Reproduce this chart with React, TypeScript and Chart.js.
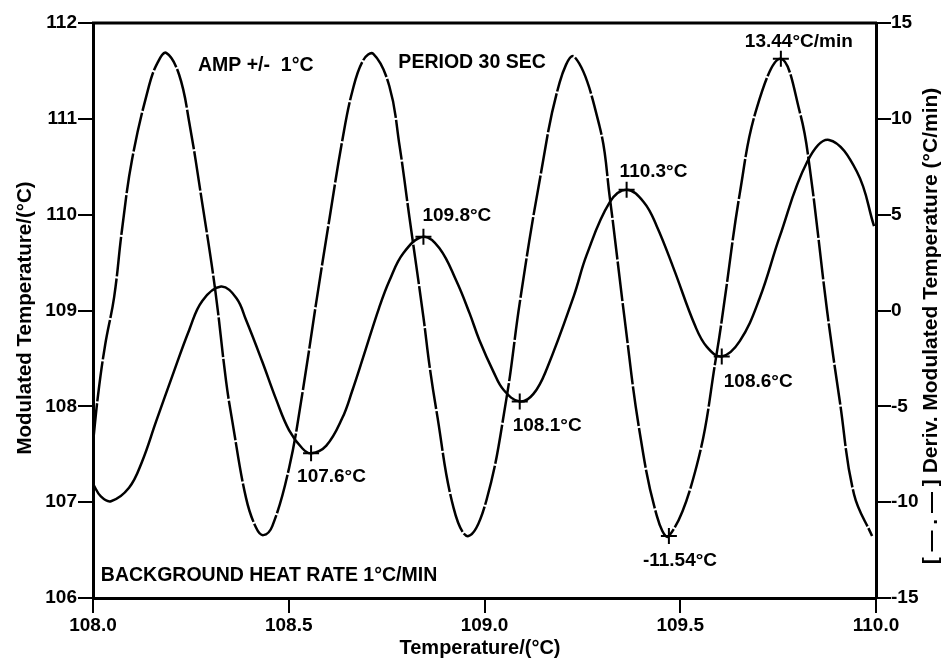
import React, { useEffect, useRef } from "react";
import { Chart, registerables } from "chart.js";

Chart.register(...registerables);

const FONT = '"Liberation Sans", Arial, Helvetica, sans-serif';

// Modulated temperature (left axis, °C) vs. average temperature (°C)
const tempX = [108.000, 108.020, 108.046, 108.092, 108.125, 108.161, 108.202, 108.246, 108.279, 108.327, 108.366, 108.391, 108.432, 108.468, 108.501, 108.535, 108.557, 108.596, 108.637, 108.662, 108.690, 108.731, 108.757, 108.793, 108.844, 108.885, 108.928, 108.962, 108.987, 109.023, 109.049, 109.090, 109.125, 109.159, 109.228, 109.261, 109.320, 109.363, 109.407, 109.440, 109.483, 109.538, 109.568, 109.606, 109.652, 109.703, 109.754, 109.824, 109.880, 109.951, 109.995];
const tempY = [107.19, 107.06, 107.01, 107.15, 107.42, 107.84, 108.31, 108.80, 109.10, 109.25, 109.13, 108.90, 108.47, 108.07, 107.75, 107.56, 107.51, 107.59, 107.88, 108.16, 108.51, 109.03, 109.31, 109.60, 109.77, 109.65, 109.31, 108.97, 108.69, 108.36, 108.17, 108.05, 108.13, 108.39, 109.15, 109.58, 110.13, 110.26, 110.13, 109.88, 109.44, 108.84, 108.62, 108.52, 108.68, 109.13, 109.77, 110.55, 110.78, 110.45, 109.88];

// Derivative of modulated temperature (right axis, °C/min)
const derivX = [108.000, 108.013, 108.031, 108.054, 108.074, 108.100, 108.143, 108.166, 108.187, 108.220, 108.246, 108.279, 108.312, 108.340, 108.356, 108.391, 108.417, 108.435, 108.458, 108.501, 108.535, 108.570, 108.604, 108.637, 108.662, 108.690, 108.716, 108.757, 108.783, 108.808, 108.844, 108.859, 108.877, 108.921, 108.959, 109.005, 109.056, 109.090, 109.141, 109.192, 109.230, 109.294, 109.320, 109.358, 109.396, 109.440, 109.471, 109.542, 109.593, 109.614, 109.652, 109.696, 109.757, 109.806, 109.831, 109.875, 109.908, 109.944, 109.990];
const derivY = [-6.90, -4.40, -1.80, 0.70, 4.20, 7.90, 11.72, 12.97, 13.44, 12.30, 9.80, 5.60, 1.10, -3.70, -5.80, -9.79, -11.35, -11.72, -11.25, -8.20, -4.30, 0.40, 4.79, 8.90, 11.40, 13.05, 13.39, 11.70, 8.60, 4.90, -0.35, -2.80, -5.20, -10.30, -11.77, -9.90, -4.60, 0.40, 6.80, 11.90, 13.23, 9.60, 5.90, -0.45, -6.30, -10.70, -11.77, -8.10, -2.25, 0.65, 6.10, 10.60, 13.13, 10.30, 7.40, 0.00, -4.80, -9.60, -11.77];

// Marked extrema
const tempMarkX = [108.557, 108.844, 109.090, 109.363, 109.606];
const tempMarkY = [107.51, 109.77, 108.05, 110.26, 108.52];
const tempMarkLabels = ["107.6°C", "109.8°C", "108.1°C", "110.3°C", "108.6°C"];
const derivMarkX = [109.471, 109.757];
const derivMarkY = [-11.77, 13.13];
const derivMarkLabels = ["-11.54°C", "13.44°C/min"];

// Axis ticks
const xTicks = [108.0, 108.5, 109.0, 109.5, 110.0];
const yTicks = [106, 107, 108, 109, 110, 111, 112];
const y2Ticks = [-15, -10, -5, 0, 5, 10, 15];

// Label placement (pixel offsets from the marked point: left edge, vertical centre)
const tempLabelOffsets = [[-14, 23], [-1, -21], [-7, 24], [-7, -18], [2, 25]];
const derivLabelOffsets = [[-26, 25], [-36, -17]];

const notes = [
  { text: "AMP +/-  1°C", x: 108.268, y: 111.56 },
  { text: "PERIOD 30 SEC", x: 108.78, y: 111.59 },
  { text: "BACKGROUND HEAT RATE 1°C/MIN", x: 108.02, y: 106.23 },
];

export default function App() {
  const ref = useRef<HTMLCanvasElement | null>(null);

  useEffect(() => {
    if (!ref.current) return;
    const tickFont = { family: FONT, size: 19, weight: "bold" as const };

    const decorations = {
      id: "decorations",
      afterDatasetsDraw(chart: any) {
        const { ctx, chartArea, scales } = chart;
        const xs = scales.x, ys = scales.y, ys2 = scales.y2;
        ctx.save();
        // top frame line
        ctx.strokeStyle = "#000";
        ctx.lineWidth = 3;
        ctx.beginPath();
        ctx.moveTo(chartArea.left - 1, chartArea.top);
        ctx.lineTo(chartArea.right + 1, chartArea.top);
        ctx.stroke();

        ctx.fillStyle = "#000";
        ctx.textAlign = "left";
        ctx.textBaseline = "middle";
        ctx.font = `bold 19px ${FONT}`;
        tempMarkLabels.forEach((t, i) => {
          const px = xs.getPixelForValue(tempMarkX[i]);
          const py = ys.getPixelForValue(tempMarkY[i]);
          ctx.fillText(t, px + tempLabelOffsets[i][0], py + tempLabelOffsets[i][1]);
        });
        derivMarkLabels.forEach((t, i) => {
          const px = xs.getPixelForValue(derivMarkX[i]);
          const py = ys2.getPixelForValue(derivMarkY[i]);
          ctx.fillText(t, px + derivLabelOffsets[i][0], py + derivLabelOffsets[i][1]);
        });
        ctx.font = `bold 19.5px ${FONT}`;
        notes.forEach((n) => {
          ctx.fillText(n.text, xs.getPixelForValue(n.x), ys.getPixelForValue(n.y));
        });

        // axis titles
        ctx.font = `bold 20px ${FONT}`;
        ctx.textAlign = "center";
        ctx.fillText("Temperature/(°C)", 480, 648);
        ctx.save();
        ctx.translate(25, 318);
        ctx.rotate(-Math.PI / 2);
        ctx.font = `bold 20.5px ${FONT}`;
        ctx.fillText("Modulated Temperature/(°C)", 0, 0);
        ctx.restore();
        ctx.save();
        ctx.translate(931, 326);
        ctx.rotate(-Math.PI / 2);
        ctx.font = `bold 21px ${FONT}`;
        ctx.fillText("[ — . — ] Deriv. Modulated Temperature (°C/min)", 0, 0);
        ctx.restore();
        ctx.restore();
      },
    };

    const chart = new Chart(ref.current, {
      type: "line",
      data: {
        datasets: [
          {
            label: "Modulated Temperature",
            data: tempX.map((x, i) => ({ x, y: tempY[i] })),
            yAxisID: "y",
            borderColor: "#000",
            borderWidth: 2.5,
            pointRadius: 0,
            tension: 0.4,
            fill: false,
          },
          {
            label: "Deriv. Modulated Temperature",
            data: derivX.map((x, i) => ({ x, y: derivY[i] })),
            yAxisID: "y2",
            borderColor: "#000",
            borderWidth: 2.5,
            borderDash: [40, 2],
            pointRadius: 0,
            tension: 0.4,
            fill: false,
          },
          {
            label: "Temperature extrema",
            data: tempMarkX.map((x, i) => ({ x, y: tempMarkY[i] })),
            yAxisID: "y",
            showLine: false,
            pointStyle: "cross",
            pointRadius: 8,
            pointBorderWidth: 2,
            pointBorderColor: "#000",
            borderColor: "#000",
          },
          {
            label: "Derivative extrema",
            data: derivMarkX.map((x, i) => ({ x, y: derivMarkY[i] })),
            yAxisID: "y2",
            showLine: false,
            pointStyle: "cross",
            pointRadius: 8,
            pointBorderWidth: 2,
            pointBorderColor: "#000",
            borderColor: "#000",
          },
        ],
      },
      options: {
        responsive: false,
        animation: false,
        events: [],
        layout: { padding: { top: 23, left: 0, right: 0, bottom: 0 } },
        plugins: { legend: { display: false }, tooltip: { enabled: false }, title: { display: false } },
        scales: {
          x: {
            type: "linear",
            min: 108,
            max: 110,
            afterBuildTicks: (s: any) => { s.ticks = xTicks.map((v) => ({ value: v })); },
            afterFit: (s: any) => { s.height = 70; },
            ticks: { color: "#000", font: tickFont, padding: 1, maxRotation: 0, callback: (v: any) => Number(v).toFixed(1) },
            grid: { drawOnChartArea: false, drawTicks: true, tickLength: 15, color: "#000", lineWidth: 2 },
            border: { display: true, color: "#000", width: 3 },
          },
          y: {
            type: "linear",
            position: "left",
            min: 106,
            max: 112,
            afterBuildTicks: (s: any) => { s.ticks = yTicks.map((v) => ({ value: v })); },
            afterFit: (s: any) => { s.width = 93; },
            ticks: { color: "#000", font: tickFont, padding: 1, callback: (v: any) => String(v) },
            grid: { drawOnChartArea: false, drawTicks: true, tickLength: 15, color: "#000", lineWidth: 2 },
            border: { display: true, color: "#000", width: 3 },
          },
          y2: {
            type: "linear",
            position: "right",
            min: -15,
            max: 15,
            afterBuildTicks: (s: any) => { s.ticks = y2Ticks.map((v) => ({ value: v })); },
            afterFit: (s: any) => { s.width = 69; },
            ticks: { color: "#000", font: tickFont, padding: 0, callback: (v: any) => String(v) },
            grid: { drawOnChartArea: false, drawTicks: true, tickLength: 15, color: "#000", lineWidth: 2 },
            border: { display: true, color: "#000", width: 3 },
          },
        },
      },
      plugins: [decorations],
    } as any);

    return () => chart.destroy();
  }, []);

  return (
    <div style={{ position: "fixed", left: 0, top: 0, width: 945, height: 668, background: "#fff" }}>
      <canvas ref={ref} width={945} height={668} style={{ display: "block" }} />
    </div>
  );
}
